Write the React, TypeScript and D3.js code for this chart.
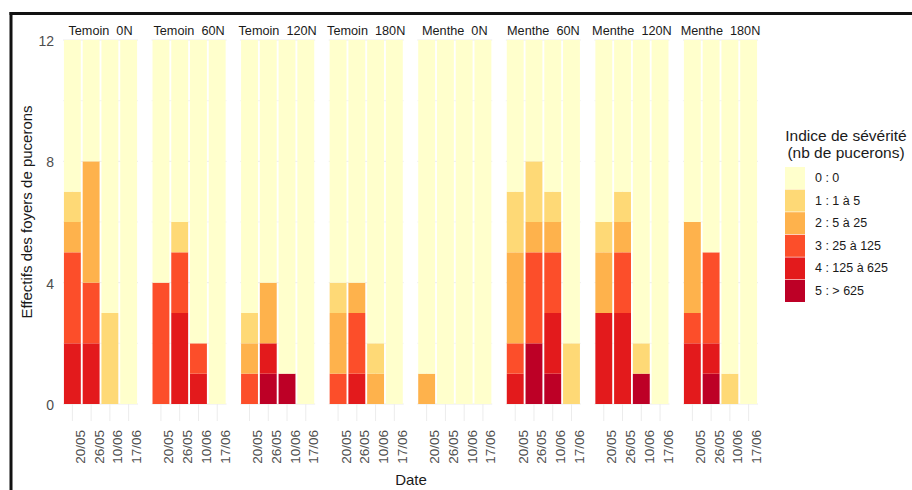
import React from "react";
import * as d3 from "d3";

const panels = ["Temoin  0N", "Temoin  60N", "Temoin  120N", "Temoin  180N", "Menthe  0N", "Menthe  60N", "Menthe  120N", "Menthe  180N"];
const dates = ["20/05", "26/05", "10/06", "17/06"];
const classKeys = ["c5", "c4", "c3", "c2", "c1", "c0"];
const legendLabels = ["0 : 0", "1 : 1 à 5", "2 : 5 à 25", "3 : 25 à 125", "4 : 125 à 625", "5 : > 625"];
const classColors = ["#ffffcc", "#fed976", "#feb24c", "#fc4e2a", "#e31a1c", "#bd0026"];
const yTicks = [0, 4, 8, 12];

// counts per bar, order: panel by panel, dates 20/05, 26/05, 10/06, 17/06
const c5 = [0, 0, 0, 0, 0, 0, 0, 0, 0, 1, 1, 0, 0, 0, 0, 0, 0, 0, 0, 0, 0, 2, 1, 0, 0, 0, 1, 0, 0, 1, 0, 0];
const c4 = [2, 2, 0, 0, 0, 3, 1, 0, 0, 1, 0, 0, 0, 1, 0, 0, 0, 0, 0, 0, 1, 0, 2, 0, 3, 3, 0, 0, 2, 1, 0, 0];
const c3 = [3, 2, 0, 0, 4, 2, 1, 0, 1, 0, 0, 0, 1, 2, 0, 0, 0, 0, 0, 0, 1, 3, 2, 0, 0, 2, 0, 0, 1, 3, 0, 0];
const c2 = [1, 4, 0, 0, 0, 0, 0, 0, 1, 2, 0, 0, 2, 1, 1, 0, 1, 0, 0, 0, 3, 1, 1, 0, 2, 1, 0, 0, 3, 0, 0, 0];
const c1 = [1, 0, 3, 0, 0, 1, 0, 0, 1, 0, 0, 0, 1, 0, 1, 0, 0, 0, 0, 0, 2, 2, 1, 2, 1, 1, 1, 0, 0, 0, 1, 0];
const c0 = [5, 4, 9, 12, 8, 6, 10, 12, 9, 8, 11, 12, 8, 8, 10, 12, 11, 12, 12, 12, 5, 4, 5, 10, 6, 5, 10, 12, 6, 7, 11, 12];

const rows = panels.flatMap((p, pi) =>
  dates.map((d, di) => {
    const i = pi * dates.length + di;
    return { panel: p, date: d, c5: c5[i], c4: c4[i], c3: c3[i], c2: c2[i], c1: c1[i], c0: c0[i] };
  })
);

const W = 912;
const H = 490;
const FONT = "Liberation Sans, Arial, sans-serif";

export default function App() {
  const px = d3.scaleBand<string>().domain(panels).range([63, 758]).paddingInner(0.153).paddingOuter(0);
  const bx = d3.scaleBand<string>().domain(dates).range([0, px.bandwidth()]).paddingInner(0.1).paddingOuter(0.05);
  const y = d3.scaleLinear().domain([0, 12]).range([404, 40]);
  const stack = d3.stack<any>().keys(classKeys);
  const series = stack(rows);
  const colorOf = (k: string) => classColors[+k.slice(1)];
  const gridVals = d3.range(0, 13, 2);

  return (
    <svg width={W} height={H} style={{ position: "absolute", left: 0, top: 0, background: "#fff" }} fontFamily={FONT}>
      <rect x={0} y={0} width={W} height={H} fill="#fff" />
      {/* panels: grid */}
      {panels.map((p) => {
        const x0 = px(p)!;
        return (
          <g key={"g" + p}>
            {gridVals.map((v) => (
              <line key={v} x1={x0} x2={x0 + px.bandwidth()} y1={y(v)} y2={y(v)} stroke="#ececec" strokeWidth={v % 4 === 0 ? 1 : 0.6} />
            ))}
            {dates.map((d) => (
              <line key={d} x1={x0 + bx(d)! + bx.bandwidth() / 2} x2={x0 + bx(d)! + bx.bandwidth() / 2} y1={40} y2={421} stroke="#ececec" strokeWidth={1} />
            ))}
            <text x={x0 + px.bandwidth() / 2} y={35} textAnchor="middle" fontSize={12.7} fill="#1a1a1a" style={{ whiteSpace: "pre" }}>
              {p}
            </text>
          </g>
        );
      })}
      {/* bars */}
      {series.map((s) => (
        <g key={s.key} fill={colorOf(s.key)}>
          {s.map((seg, i) => {
            const r = rows[i];
            const h = y(seg[0]) - y(seg[1]);
            if (h <= 0) return null;
            return <rect key={i} x={px(r.panel)! + bx(r.date)!} width={bx.bandwidth()} y={y(seg[1])} height={h} />;
          })}
        </g>
      ))}
      {/* x tick labels */}
      {panels.map((p) =>
        dates.map((d) => {
          const cx = px(p)! + bx(d)! + bx.bandwidth() / 2 + 12.5;
          return (
            <text key={p + d} transform={`translate(${cx},430) rotate(-90)`} textAnchor="end" fontSize={13.5} fill="#4d4d4d">
              {d}
            </text>
          );
        })
      )}
      {/* y ticks */}
      {yTicks.map((t) => (
        <text key={t} x={54} y={y(t) + 1} textAnchor="end" dominantBaseline="central" fontSize={14} fill="#4d4d4d">
          {t}
        </text>
      ))}
      {/* axis titles */}
      <text transform="translate(32,212) rotate(-90)" textAnchor="middle" fontSize={15} fill="#1a1a1a">
        Effectifs des foyers de pucerons
      </text>
      <text x={411} y={485} textAnchor="middle" fontSize={15} fill="#1a1a1a">
        Date
      </text>
      {/* legend */}
      <text x={846} y={141} textAnchor="middle" fontSize={15.5} fill="#1a1a1a">
        Indice de sévérité
      </text>
      <text x={846} y={158} textAnchor="middle" fontSize={15.5} fill="#1a1a1a">
        (nb de pucerons)
      </text>
      {legendLabels.map((l, i) => (
        <g key={l}>
          <rect x={785} y={167 + i * 22.6} width={20} height={22} fill={classColors[i]} />
          <text x={815} y={167 + i * 22.6 + 11} dominantBaseline="central" fontSize={12.5} fill="#1a1a1a">
            {l}
          </text>
        </g>
      ))}
      {/* frame */}
      <line x1={9.5} x2={W} y1={13.5} y2={13.5} stroke="#111" strokeWidth={3} />
      <line x1={11} x2={11} y1={12} y2={H} stroke="#111" strokeWidth={3} />
    </svg>
  );
}
